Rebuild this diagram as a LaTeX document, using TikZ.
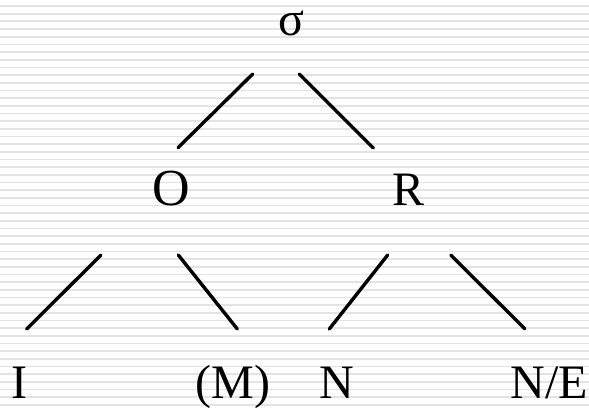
\documentclass[tikz,border=0pt]{standalone}
\usepackage{fontspec}
\setmainfont{Liberation Serif}
\usetikzlibrary{positioning}

\begin{document}
\begin{tikzpicture}[
    x=1pt, y=-1pt,
    stripe/.style={draw=black!11, line width=1.7pt},
    label/.style={anchor=base, inner sep=0pt, font=\fontsize{48}{50}\selectfont},
    branch/.style={line width=3.4pt, line cap=round}
]

% Background
\useasboundingbox (0,0) rectangle (589,407);
\fill[white] (0,0) rectangle (589,407);
\foreach \k in {0,...,52}
    \draw[stripe] (0,{6+7.67*\k}) -- (589,{6+7.67*\k});

% -------------------------
% Syllable tree
% -------------------------

% Syllable
\node[label, text height=22pt, text depth=0pt] (sigma) at (291,35) {σ};

% Onset and rime
\node[label, font=\fontsize{52}{54}\selectfont] (onset) at (171,205) {O};
\node[label] (rime) at (409,205) {R};

% Segments
\node[label] (I) at (19,398) {I};
\node[label] (M) at (233,398) {(M)};
\node[label] (N) at (337,398) {N};
\node[label] (NE) at (549,398) {N/E};

% -------------------------
% Branches
% -------------------------

% sigma -> onset, rime
\draw[branch] ([shift={(-38.3,39)}]sigma.base) -- ([shift={(7,-57.3)}]onset.base);
\draw[branch] ([shift={(8.3,39)}]sigma.base) -- ([shift={(-35.7,-57)}]rime.base);

% onset -> I, (M)
\draw[branch] ([shift={(-70,50)}]onset.base) -- ([shift={(7.7,-69)}]I.base);
\draw[branch] ([shift={(7.3,50)}]onset.base) -- ([shift={(4.3,-69)}]M.base);

% rime -> N, N/E
\draw[branch] ([shift={(-21.3,50)}]rime.base) -- ([shift={(-7.7,-69)}]N.base);
\draw[branch] ([shift={(41.7,50)}]rime.base) -- ([shift={(-24,-69)}]NE.base);

\end{tikzpicture}
\end{document}
